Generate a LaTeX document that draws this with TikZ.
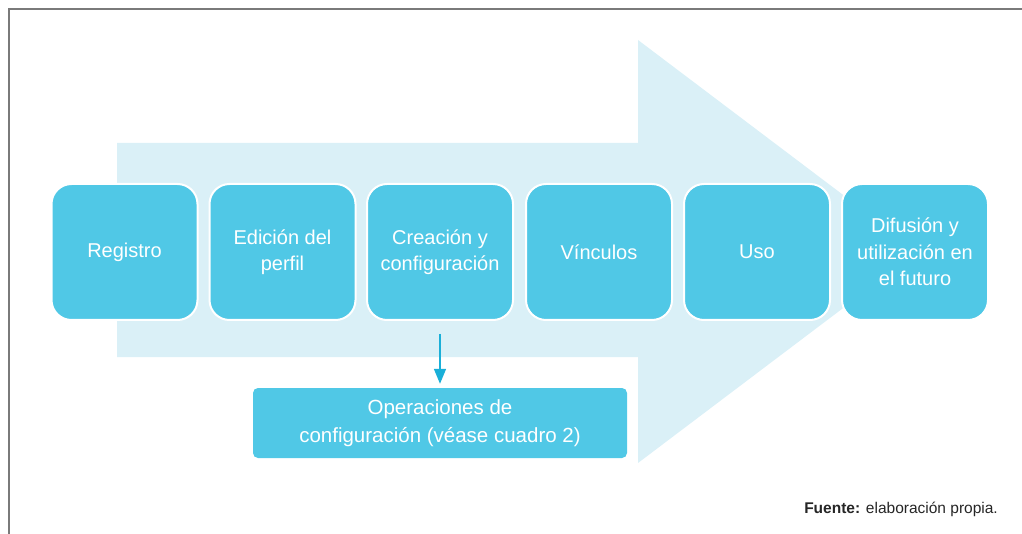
\documentclass[tikz,border=0pt]{standalone}
\usepackage{fontspec}
\setmainfont{Liberation Sans}
\usetikzlibrary{arrows.meta}
\definecolor{boxfill}{HTML}{50C8E6}
\definecolor{bigarrow}{HTML}{DAF0F7}
\definecolor{framegray}{HTML}{7A7A7A}
\definecolor{smallarrow}{HTML}{1AAFD8}
\tikzset{
  stepbox/.style={draw=white, line width=2pt, fill=boxfill, rounded corners=20pt,
    minimum width=146pt, minimum height=136pt, text=white, align=center,
    font=\fontsize{20}{26.5}\selectfont, inner sep=0pt},
  opsbox/.style={fill=boxfill, rounded corners=5pt, minimum width=374pt,
    minimum height=70pt, text=white, align=center,
    font=\fontsize{20.5}{28}\selectfont, inner sep=0pt},
}
\begin{document}
\begin{tikzpicture}[x=1pt,y=-1pt]
\useasboundingbox (0,0) rectangle (1022,534);
% frame
\draw[framegray, line width=2pt] (9,534) -- (9,9) -- (1022,9);
% big arrow
\fill[bigarrow] (117,143) -- (638,143) -- (638,40) -- (918,251.5) -- (638,463) -- (638,357) -- (117,357) -- cycle;
% steps
\node[stepbox] (b1) at (124.5,252) {Registro};
\node[stepbox] (b2) at (282.5,252) {Edición del\\perfil};
\node[stepbox] (b3) at (440,252) {Creación y\\configuración};
\node[stepbox] (b4) at (599,252) {Vínculos};
\node[stepbox] (b5) at (757,252) {Uso};
\node[stepbox] (b6) at (915,252) {Difusión y\\utilización en\\el futuro};
% operations box
\node[opsbox] (ops) at (440,423) {Operaciones de\\configuración (véase cuadro 2)};
\draw[smallarrow, line width=1.6pt, -{Triangle[width=12pt,length=15pt]},
  shorten <=13pt, shorten >=4pt] (b3.south) -- (ops.north);
% source
\node[anchor=base east, font=\fontsize{15.5}{18}\selectfont, text=black!85, inner sep=0pt] (src) at (998,513)
  {\textbf{Fuente:} elaboración propia.};
\end{tikzpicture}
\end{document}
